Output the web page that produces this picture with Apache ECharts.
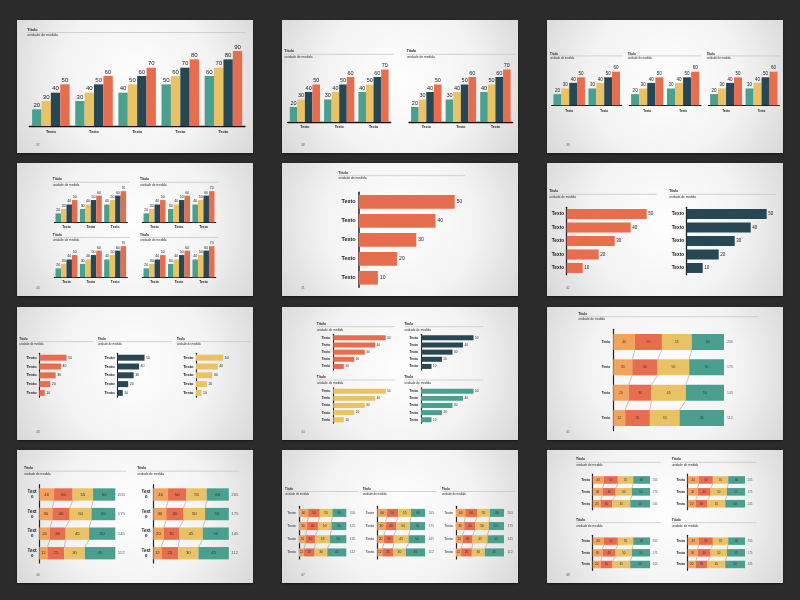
<!DOCTYPE html>
<html><head><meta charset="utf-8">
<script src="https://cdn.jsdelivr.net/npm/echarts@6/dist/echarts.min.js"></script>
<style>
html,body{margin:0;padding:0;background:#2b2b2b;width:800px;height:600px;overflow:hidden}
.s{position:absolute;width:236px;height:133px;box-shadow:0 1px 2px rgba(0,0,0,.5)}
</style></head><body>
<script>
// ---------- data ----------
const CATEGORIES = ['Texto','Texto','Texto','Texto','Texto'];
const SERIES_1 = [20,30,40,50,60];
const SERIES_2 = [30,40,50,60,70];
const SERIES_3 = [40,50,60,70,80];
const SERIES_4 = [50,60,70,80,90];
const HBAR_VALUES = [50,40,30,20,10];
const STACK_A = [40,30,20,12];
const STACK_B = [50,40,30,25];
const STACK_C = [55,50,45,30];
const STACK_D = [60,55,50,45];
const STACK_TOTALS = [205,175,145,112];
const PAGE_NUMBERS = [37,38,39,40,41,42,43,44,45,46,47,48];
const TITLE_TEXT = 'Título';
const UNIT_TEXT = 'unidade de medida';

// ---------- style ----------
const FONT = '"Liberation Sans", Arial, sans-serif';
const C_TEAL='#4a9f8f', C_YELLOW='#e8c265', C_NAVY='#274755', C_ORANGE='#e76d4f', C_LORANGE='#f2a35e';
const VCOLORS=[C_TEAL,C_YELLOW,C_NAVY,C_ORANGE];
const SCOLORS=[C_LORANGE,C_ORANGE,C_YELLOW,C_TEAL];
const COLX=[17,282,547], ROWY=[20,163,307,450];

function newOpt(page){
  const o={animation:false,
    backgroundColor:{type:'radial',x:0.5,y:0.45,r:1.15,colorStops:[{offset:0,color:'#fefefe'},{offset:0.5,color:'#f3f3f3'},{offset:1,color:'#d2d2d2'}]},
    textStyle:{fontFamily:FONT},graphic:[],grid:[],xAxis:[],yAxis:[],series:[]};
  o.graphic.push({type:'text',x:19.3,y:125,silent:true,style:{text:String(page),fontSize:3,fill:'#555',fontFamily:FONT,textVerticalAlign:'middle'}});
  return o;
}
function title(o,x,x2,ty,ly,sy,fs){
  o.graphic.push({type:'text',x:x,y:ty,silent:true,style:{text:TITLE_TEXT,fontSize:fs,fontWeight:'bold',fill:'#222',fontFamily:FONT,textVerticalAlign:'middle'}});
  o.graphic.push({type:'line',silent:true,shape:{x1:x,y1:ly,x2:x2,y2:ly},style:{stroke:'#c6c6c6',lineWidth:0.8}});
  o.graphic.push({type:'text',x:x,y:sy,silent:true,style:{text:UNIT_TEXT,fontSize:fs*0.95,fill:'#333',fontFamily:FONT,textVerticalAlign:'middle'}});
}
function vbar(o,s){
  const gi=o.grid.length, H=s.ppu*100;
  o.grid.push({left:s.l,top:s.base-H,width:s.r-s.l,height:H});
  o.xAxis.push({gridIndex:gi,type:'category',data:CATEGORIES.slice(0,s.n),
    axisLine:{lineStyle:{color:'#111',width:s.aw||1.3}},axisTick:{show:false},
    axisLabel:{interval:0,fontSize:s.cf,fontWeight:'bold',color:'#222',margin:s.cm,fontFamily:FONT}});
  o.yAxis.push({gridIndex:gi,type:'value',min:0,max:100,show:false});
  [SERIES_1,SERIES_2,SERIES_3,SERIES_4].forEach((d,k)=>{
    o.series.push({type:'bar',xAxisIndex:gi,yAxisIndex:gi,data:d.slice(0,s.n),barGap:'0%',barCategoryGap:s.gap,
      itemStyle:{color:VCOLORS[k]},silent:true,
      label:{show:true,position:'top',distance:s.vd||1,fontSize:s.vf,color:'#222',fontFamily:FONT}});
  });
}
function hbar(o,s){
  const gi=o.grid.length, MAX=60;
  o.grid.push({left:s.l,top:s.top,width:MAX*s.ppu,height:s.bot-s.top});
  o.xAxis.push({gridIndex:gi,type:'value',min:0,max:MAX,show:false});
  o.yAxis.push({gridIndex:gi,type:'category',inverse:true,data:CATEGORIES,
    axisLine:{lineStyle:{color:'#222',width:s.aw||1.3}},axisTick:{show:false},
    axisLabel:{interval:0,fontSize:s.cf,fontWeight:'bold',color:'#222',margin:s.cm,fontFamily:FONT}});
  o.series.push({type:'bar',xAxisIndex:gi,yAxisIndex:gi,data:HBAR_VALUES,barWidth:s.bw,silent:true,
    itemStyle:{color:s.color},
    label:{show:true,position:'right',distance:s.vd||1.5,fontSize:s.vf,color:'#222',fontFamily:FONT}});
}
function stack(o,s){
  const gi=o.grid.length, n=s.rows;
  const parts=[STACK_A,STACK_B,STACK_C,STACK_D];
  const totals=STACK_TOTALS.slice(0,n);
  const ratio=parseFloat(s.bw)/100;
  o.grid.push({left:s.l,top:s.top,width:s.w,height:s.bot-s.top});
  o.xAxis.push({gridIndex:gi,type:'value',min:0,max:100,show:false});
  const lab={interval:0,fontSize:s.cf,fontWeight:s.bold?'bold':'normal',color:'#222',margin:s.cm,fontFamily:FONT};
  if(s.wrap){lab.formatter=v=>v.slice(0,4)+'\n'+v.slice(4);lab.align='center';lab.lineHeight=s.cf*1.1;}
  o.yAxis.push({gridIndex:gi,type:'category',inverse:true,data:CATEGORIES.slice(0,n),
    axisLine:{lineStyle:{color:'#222',width:s.aw||1.2}},axisTick:{show:false},axisLabel:lab});
  parts.forEach((arr,k)=>{
    o.series.push({type:'bar',stack:'st'+gi,xAxisIndex:gi,yAxisIndex:gi,barWidth:s.bw,silent:true,
      data:arr.slice(0,n).map((v,i)=>v/totals[i]*100),itemStyle:{color:SCOLORS[k]},
      label:{show:true,position:'inside',fontSize:s.sf,color:'#333',fontFamily:FONT,formatter:p=>String(arr[p.dataIndex])}});
  });
  const cd=[];
  for(let i=0;i<n-1;i++){let c1=0,c2=0;for(let k=0;k<3;k++){c1+=parts[k][i]/totals[i]*100;c2+=parts[k][i+1]/totals[i+1]*100;cd.push([c1,i,c2,i+1]);}}
  o.series.push({type:'custom',xAxisIndex:gi,yAxisIndex:gi,data:cd,encode:{x:[0,2],y:[1,3]},silent:true,
    renderItem:(params,api)=>{
      const p1=api.coord([api.value(0),api.value(1)]), p2=api.coord([api.value(2),api.value(3)]);
      const half=api.size([0,1])[1]*ratio/2;
      return {type:'line',shape:{x1:p1[0],y1:p1[1]+half,x2:p2[0],y2:p2[1]-half},style:{stroke:'#8a8a8a',lineWidth:0.5}};
    }});
  o.series.push({type:'scatter',xAxisIndex:gi,yAxisIndex:gi,data:totals.map((t,i)=>[100,i]),symbolSize:1,silent:true,
    itemStyle:{color:'rgba(0,0,0,0)'},
    label:{show:true,position:'right',distance:s.td,fontSize:s.tf,color:'#333',fontFamily:FONT,formatter:p=>String(totals[p.dataIndex])}});
}

// ---------- slides ----------
const slides=[];
// 1
(function(){const o=newOpt(PAGE_NUMBERS[0]);
 title(o,10.3,229.7,9.7,12.5,15.3,3.8);
 vbar(o,{l:12.3,r:228,base:106,ppu:0.833,n:5,gap:'13%',vf:6,cf:3.8,cm:4.3,aw:1.4});
 slides.push(o);})();
// 2
(function(){const o=newOpt(PAGE_NUMBERS[1]);
 title(o,2.3,112,31,34.3,37,3.5); title(o,124.7,233.7,31,34.3,37,3.5);
 vbar(o,{l:5.7,r:108.7,base:102,ppu:0.75,n:3,gap:'12%',vf:5.5,cf:3.5,cm:3.5});
 vbar(o,{l:127,r:230.7,base:102,ppu:0.75,n:3,gap:'12%',vf:5.5,cf:3.5,cm:3.5});
 slides.push(o);})();
// 3
(function(){const o=newOpt(PAGE_NUMBERS[2]);
 [[3,76],[80.7,154],[159.7,233.7]].forEach(a=>title(o,a[0],a[1],33.7,35.9,38,3));
 [[4.7,74.7],[82.3,154],[161.3,232.3]].forEach(a=>vbar(o,{l:a[0],r:a[1],base:85.3,ppu:0.56,n:2,gap:'10%',vf:4.5,cf:3,cm:4.3,aw:1.2}));
 slides.push(o);})();
// 4
(function(){const o=newOpt(PAGE_NUMBERS[3]);
 [[16.3,19.2,22.3],[71.7,74.5,77.3]].forEach(t=>{title(o,35.7,113,t[0],t[1],t[2],3.3);title(o,123,201,t[0],t[1],t[2],3.3);});
 [59.3,114.3].forEach(b=>{
   vbar(o,{l:37.3,r:110.3,base:b,ppu:0.445,n:3,gap:'10%',vf:3.5,cf:3.3,cm:3.3,aw:1.1});
   vbar(o,{l:125.3,r:198.7,base:b,ppu:0.445,n:3,gap:'10%',vf:3.5,cf:3.3,cm:3.3,aw:1.1});});
 slides.push(o);})();
// 5
(function(){const o=newOpt(PAGE_NUMBERS[4]);
 title(o,56.3,183,9.7,12.7,15.3,3.5);
 hbar(o,{l:76.7,top:29.3,bot:124.3,ppu:1.92,color:C_ORANGE,bw:'72%',cf:5.5,cm:3,vf:5,vd:2,aw:1.5});
 slides.push(o);})();
// 6
(function(){const o=newOpt(PAGE_NUMBERS[5]);
 title(o,2.3,109.7,28.3,31.3,33.9,3.3); title(o,122.3,229,28.3,31.3,33.9,3.3);
 hbar(o,{l:19.7,top:44.3,bot:111.7,ppu:1.6,color:C_ORANGE,bw:'74%',cf:4.8,cm:2.5,vf:4.5});
 hbar(o,{l:139.7,top:44.3,bot:111.7,ppu:1.6,color:C_NAVY,bw:'74%',cf:4.8,cm:2.5,vf:4.5});
 slides.push(o);})();
// 7
(function(){const o=newOpt(PAGE_NUMBERS[6]);
 [[2.3,75.7],[80.7,154.7],[159.7,233.7]].forEach(a=>title(o,a[0],a[1],32.3,34.6,36.9,3));
 [[22.3,C_ORANGE],[100.3,C_NAVY],[179,C_YELLOW]].forEach(a=>hbar(o,{l:a[0],top:46.3,bot:90.3,ppu:0.545,color:a[1],bw:'68%',cf:4,cm:2.5,vf:3.5,aw:1.1}));
 slides.push(o);})();
// 8
(function(){const o=newOpt(PAGE_NUMBERS[7]);
 [[17,19.7,22.7],[70.3,73,75.7]].forEach(t=>{title(o,34.7,113,t[0],t[1],t[2],3.3);title(o,122.3,201.3,t[0],t[1],t[2],3.3);});
 hbar(o,{l:51.3,top:27.3,bot:63,ppu:1.05,color:C_ORANGE,bw:'70%',cf:3.3,cm:3,vf:3,aw:1.1});
 hbar(o,{l:139,top:27.3,bot:63,ppu:1.05,color:C_NAVY,bw:'70%',cf:3.3,cm:3,vf:3,aw:1.1});
 hbar(o,{l:51.3,top:80.7,bot:116.3,ppu:1.05,color:C_YELLOW,bw:'70%',cf:3.3,cm:3,vf:3,aw:1.1});
 hbar(o,{l:139,top:80.7,bot:116.3,ppu:1.05,color:C_TEAL,bw:'70%',cf:3.3,cm:3,vf:3,aw:1.1});
 slides.push(o);})();
// 9
(function(){const o=newOpt(PAGE_NUMBERS[8]);
 title(o,31.3,211.3,7,9.7,12.3,3.3);
 stack(o,{l:66.3,w:110.7,top:22.3,bot:123.7,rows:4,bw:'63%',sf:3.3,tf:3.5,td:2.5,cf:3.3,cm:3,bold:true});
 slides.push(o);})();
// 10
(function(){const o=newOpt(PAGE_NUMBERS[9]);
 title(o,7,109,18.3,21.2,23.9,3.3); title(o,120.3,222.3,18.3,21.2,23.9,3.3);
 stack(o,{l:22.3,w:76,top:34.7,bot:113,rows:4,bw:'63%',sf:4.3,tf:4.3,td:2,cf:4.5,cm:7.3,bold:true,wrap:true});
 stack(o,{l:136.3,w:75.5,top:34.7,bot:113,rows:4,bw:'63%',sf:4.3,tf:4.3,td:2,cf:4.5,cm:7.3,bold:true,wrap:true});
 slides.push(o);})();
// 11
(function(){const o=newOpt(PAGE_NUMBERS[10]);
 [[3,76.3],[80.7,154.7],[159.7,233.7]].forEach(a=>title(o,a[0],a[1],39,41.5,43.8,3));
 [[17,47.3],[95.3,47.7],[174,48]].forEach(a=>stack(o,{l:a[0],w:a[1],top:56.3,bot:109,rows:4,bw:'61%',sf:3.3,tf:3.3,td:3,cf:3.5,cm:3.3,bold:false}));
 slides.push(o);})();
// 12
(function(){const o=newOpt(PAGE_NUMBERS[11]);
 [[9,12.3,15.3],[69.7,72.7,75.7]].forEach(t=>{title(o,29,113.7,t[0],t[1],t[2],3.3);title(o,124.7,209.7,t[0],t[1],t[2],3.3);});
 [[24,59.7],[85.3,120.3]].forEach(r=>{
   stack(o,{l:45.7,w:57.3,top:r[0],bot:r[1],rows:3,bw:'64%',sf:3,tf:3,td:2,cf:3.3,cm:2.7,bold:true});
   stack(o,{l:140.7,w:57.3,top:r[0],bot:r[1],rows:3,bw:'64%',sf:3,tf:3,td:2,cf:3.3,cm:2.7,bold:true});});
 slides.push(o);})();

slides.forEach((o,i)=>{
  const d=document.createElement('div');d.className='s';
  d.style.left=COLX[i%3]+'px';d.style.top=ROWY[Math.floor(i/3)]+'px';
  document.body.appendChild(d);
  const c=echarts.init(d,null,{renderer:'canvas',width:236,height:133});
  c.setOption(o);
});
</script>
</body></html>
